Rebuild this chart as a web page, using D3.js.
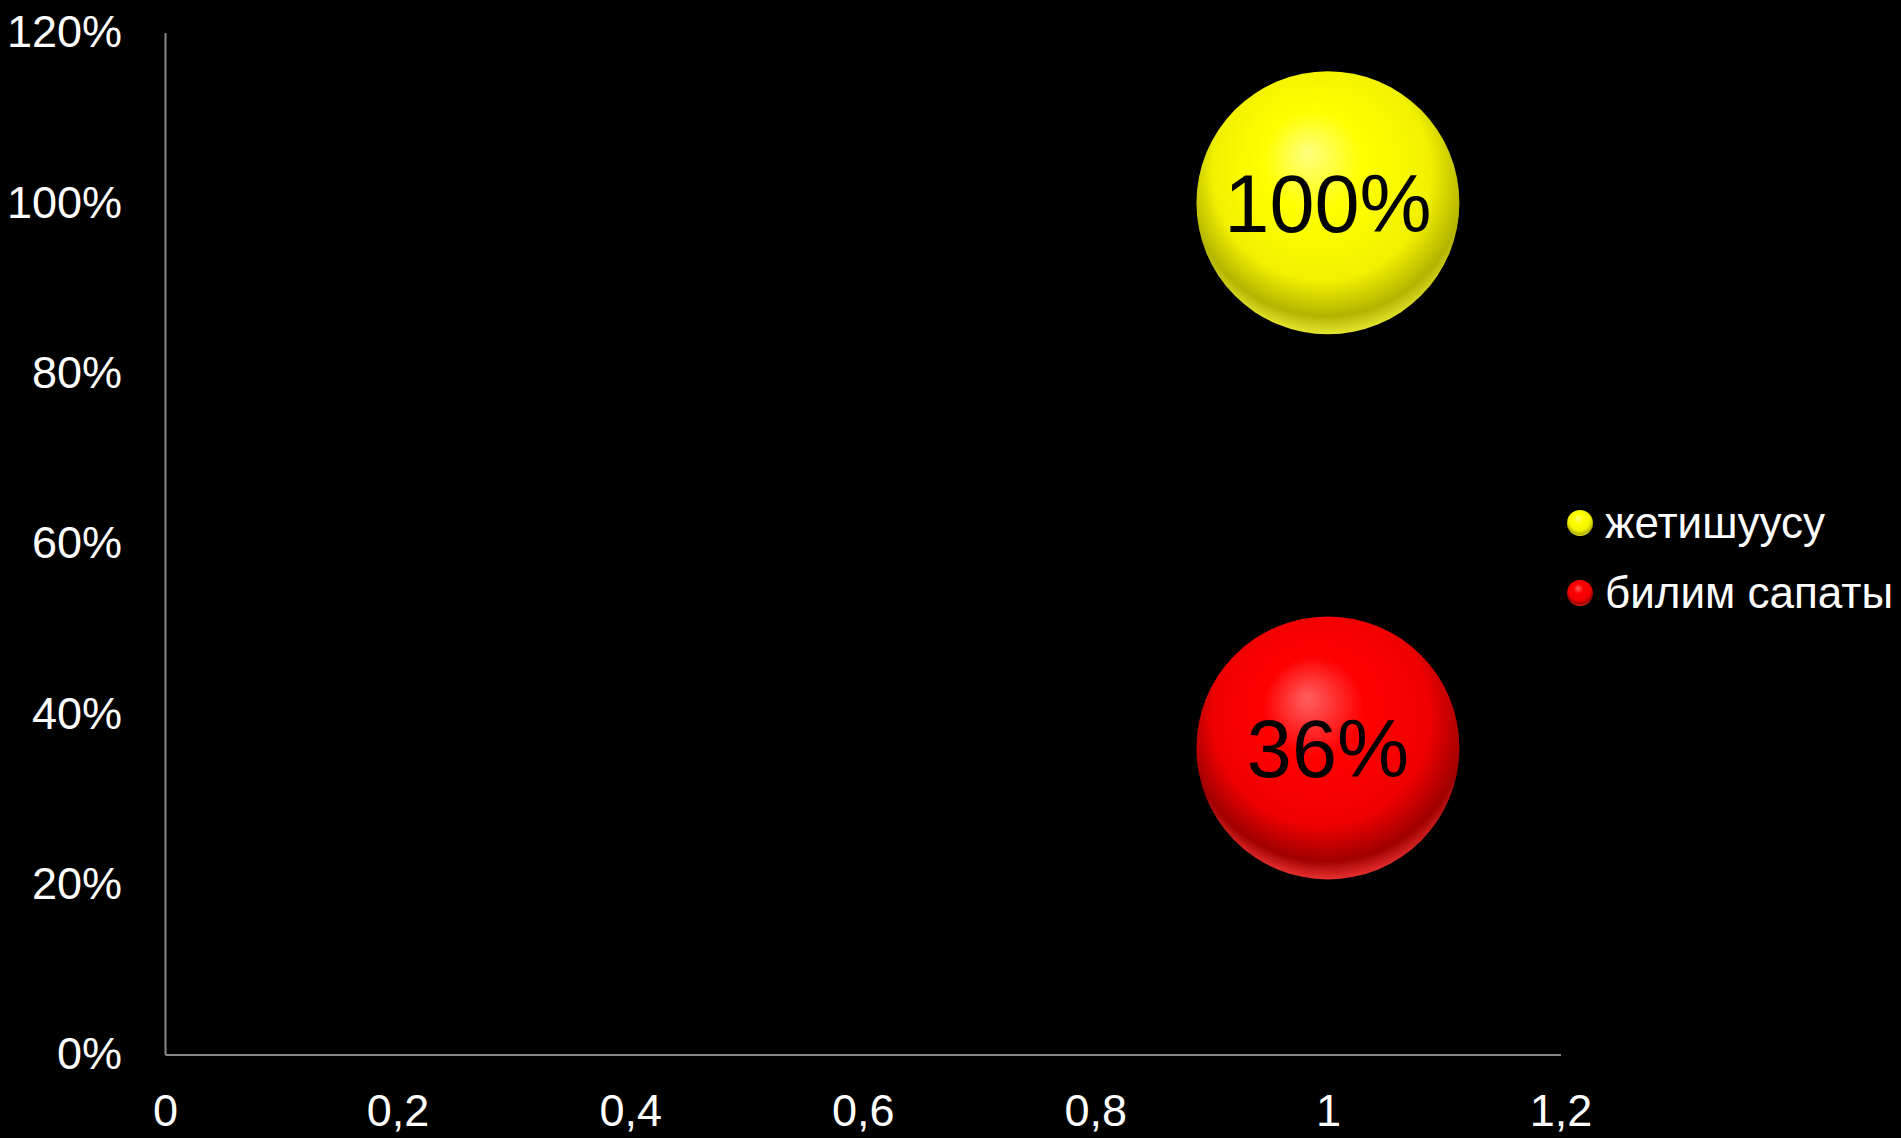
<!DOCTYPE html>
<html>
<head>
<meta charset="utf-8">
<script src="https://cdn.jsdelivr.net/npm/d3@7"></script>
<style>
  html, body { margin: 0; padding: 0; background: #000; }
  svg { display: block; }
  text { font-family: "Liberation Sans", Arial, sans-serif; }
</style>
</head>
<body>
<svg id="chart" width="1901" height="1138"></svg>
<script>
// ---- data ----
const seriesNames = ["жетишуусу", "билим сапаты"];
const seriesX = [1, 1];
const seriesY = [1.00, 0.36];
const seriesSize = [1, 1];
const seriesLabels = ["100%", "36%"];
const xTicks = [0, 0.2, 0.4, 0.6, 0.8, 1, 1.2];
const yTicks = [0, 0.2, 0.4, 0.6, 0.8, 1.0, 1.2];
const seriesColors = [
  { hi: "#ffff80", main: "#ffff00", mid: "#f2f200", dark: "#b4b400", rim: "#e6e630" },
  { hi: "#ff6060", main: "#ff0000", mid: "#f00000", dark: "#a00000", rim: "#e83030" }
];

// ---- layout ----
const svg = d3.select("#chart");
const x = d3.scaleLinear().domain([0, 1.2]).range([165, 1560.5]);
const y = d3.scaleLinear().domain([0, 1.2]).range([1054.5, 32.5]);
const r = d3.scaleSqrt().domain([0, 1]).range([0, 131.5]);

const defs = svg.append("defs");
seriesColors.forEach((c, i) => {
  const g = defs.append("radialGradient")
    .attr("id", "sphere" + i)
    .attr("cx", "50%").attr("cy", "41%").attr("r", "59%")
    .attr("fx", "42%").attr("fy", "31%");
  g.append("stop").attr("offset", "0%").attr("stop-color", c.hi);
  g.append("stop").attr("offset", "32%").attr("stop-color", c.main);
  g.append("stop").attr("offset", "70%").attr("stop-color", c.mid);
  g.append("stop").attr("offset", "90%").attr("stop-color", c.dark);
  g.append("stop").attr("offset", "100%").attr("stop-color", c.rim);
});

// axes
const yAxis = d3.axisLeft(y).tickValues(yTicks).tickSize(0).tickPadding(43)
  .tickFormat(d => Math.round(d * 100) + "%");
const xAxis = d3.axisBottom(x).tickValues(xTicks).tickSize(0).tickPadding(42)
  .tickFormat(d => d3.format("~g")(d).replace(".", ","));

const gy = svg.append("g").attr("transform", `translate(${x(0)},0)`).call(yAxis);
const gx = svg.append("g").attr("transform", `translate(0,${y(0)})`).call(xAxis);
[gy, gx].forEach(g => {
  g.select(".domain").attr("stroke", "#888").attr("stroke-width", 2);
  g.selectAll("text").attr("fill", "#fff").attr("font-size", 45)
    .attr("font-family", "'Liberation Sans', Arial, sans-serif");
});
gx.selectAll("text").attr("dy", "0.65em");

// bubbles
const pts = seriesNames.map((n, i) => ({ name: n, x: seriesX[i], y: seriesY[i], s: seriesSize[i], label: seriesLabels[i], i }));
const bub = svg.append("g").selectAll("g").data(pts).join("g")
  .attr("transform", d => `translate(${x(d.x)},${y(d.y)})`);
bub.append("circle").attr("r", d => r(d.s)).attr("fill", d => `url(#sphere${d.i})`);
bub.append("text").attr("text-anchor", "middle").attr("dy", "0.36em")
  .attr("font-size", 81).attr("fill", "#000")
  .text(d => d.label);

// legend
const legend = svg.append("g").attr("transform", "translate(1580,523)");
const li = legend.selectAll("g").data(pts).join("g")
  .attr("transform", (d, i) => `translate(0,${i * 70})`);
li.append("circle").attr("r", 13).attr("fill", d => `url(#sphere${d.i})`);
li.append("text").attr("x", 25).attr("dy", "0.35em").attr("font-size", 44)
  .attr("fill", "#fff").text(d => d.name);
</script>
</body>
</html>
